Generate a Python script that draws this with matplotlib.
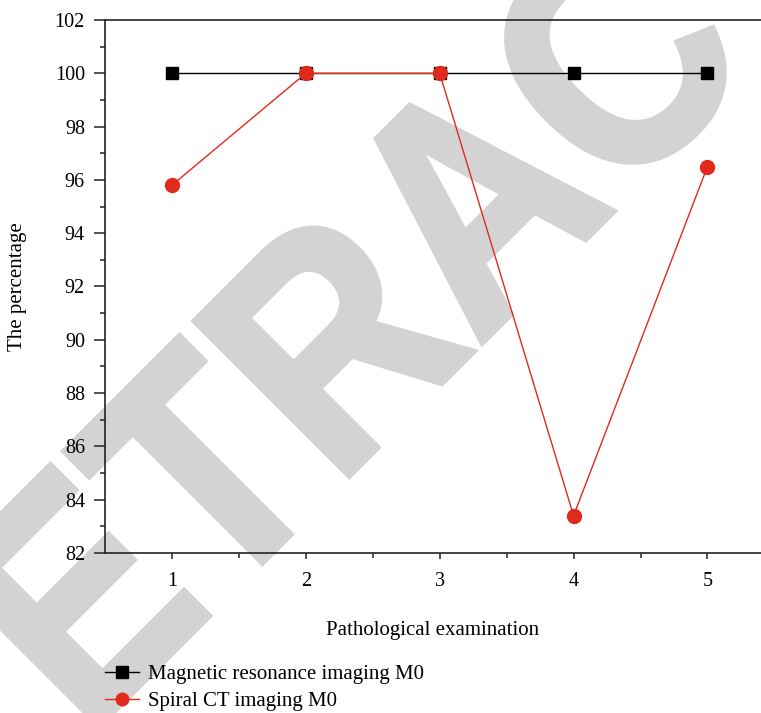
import matplotlib
matplotlib.use("Agg")
import matplotlib.pyplot as plt
from matplotlib.textpath import TextPath
from matplotlib.patches import PathPatch
from matplotlib.font_manager import FontProperties
from matplotlib.transforms import Affine2D, IdentityTransform

# data
exams = [1, 2, 3, 4, 5]
mri_m0 = [100, 100, 100, 100, 100]
ct_m0 = [95.8, 100, 100, 83.4, 96.5]
series_names = ["Magnetic resonance imaging M0", "Spiral CT imaging M0"]
y_ticks = [82, 84, 86, 88, 90, 92, 94, 96, 98, 100, 102]

plt.rcParams['font.family'] = ['Liberation Serif', 'DejaVu Serif']

fig = plt.figure(figsize=(7.61, 7.13), dpi=100)

# watermark: condensed bold word, rotated 45 deg, behind the axes
fp = FontProperties(family="Liberation Sans", weight="bold")
em = 318
word = TextPath((0, 0), "RETRACTED", size=em, prop=fp)
a_right = TextPath((0, 0), "RETRA", size=em, prop=fp).get_extents().x1
a_w = TextPath((0, 0), "A", size=em, prop=fp).get_extents().width
a_cx = a_right - a_w / 2
tr = Affine2D().translate(-a_cx, 0).scale(0.87, 1).rotate_deg(45).translate(548, 713 - 277)
wm = PathPatch(tr.transform_path(word), transform=IdentityTransform(),
               facecolor="#d3d3d3", edgecolor="#d3d3d3", lw=4.3, zorder=0)
fig.add_artist(wm)

ax = fig.add_axes([0.138, 0.2244, 0.862, 0.7476], zorder=1)
ax.patch.set_alpha(0)

ax.plot(exams, mri_m0, color="black", lw=1, marker="s", ms=9,
        label=series_names[0], zorder=3)
ax.plot(exams, ct_m0, color="#e02a1c", lw=1, marker="o", ms=10,
        mec="#e02a1c", label=series_names[1], zorder=4)

ax.set_xlim(0.5, 5.4)
ax.set_ylim(82, 102)
ax.set_xticks(exams)
ax.set_xticks([1.5, 2.5, 3.5, 4.5], minor=True)
ax.set_yticks(y_ticks)
ax.set_yticks([y + 1 for y in y_ticks[:-1]], minor=True)
ax.tick_params(labelsize=14.5, width=1.2, color="#333333")
ax.tick_params(axis="y", length=8, pad=6.5)
ax.tick_params(axis="x", length=4.5, pad=9)
ax.tick_params(which="minor", length=3.5, width=1.2, color="#333333")

ax.spines["right"].set_visible(False)
for s in ["left", "bottom", "top"]:
    ax.spines[s].set_linewidth(1.2)
    ax.spines[s].set_color("#222222")

ax.set_xlabel("Pathological examination", fontsize=15, labelpad=22)
ax.set_ylabel("The percentage", fontsize=15, labelpad=20)

ax.legend(loc="upper left", bbox_to_anchor=(-0.012, -0.193), frameon=False,
          fontsize=15, handlelength=1.6, handletextpad=0.45, labelspacing=0.38,
          borderaxespad=0, markerscale=0.9)

fig.savefig("out.png", dpi=100)
